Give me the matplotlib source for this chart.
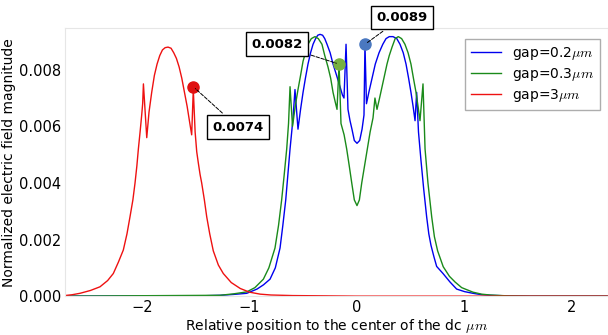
import matplotlib.pyplot as plt
import numpy as np

plt.rcParams["mathtext.fontset"] = "cm"

# positions in um
red_x = [-2.72, -2.65, -2.577, -2.48, -2.391, -2.32, -2.267, -2.22, -2.174, -2.14,
         -2.112, -2.085, -2.065, -2.048, -2.034, -2.018, -2.003, -1.994, -1.987, -1.956,
         -1.935, -1.91, -1.885, -1.86, -1.835, -1.81, -1.785, -1.758, -1.73, -1.705,
         -1.68, -1.655, -1.63, -1.605, -1.58, -1.555, -1.538, -1.523, -1.506, -1.491,
         -1.476, -1.46, -1.445, -1.42, -1.398, -1.37, -1.337, -1.29, -1.244, -1.17,
         -1.086, -1.0, -0.900, -0.8, -0.6, -0.3, 0.0, 1.0, 2.4]
red_y = [0.00002, 0.00005, 0.0001, 0.0002, 0.00033, 0.00055, 0.0008, 0.0012, 0.00163, 0.0022,
         0.0028, 0.0034, 0.0040, 0.0046, 0.0052, 0.0058, 0.0064, 0.0068, 0.0075, 0.0056,
         0.0065, 0.0072, 0.0078, 0.0082, 0.0085, 0.0087, 0.00878, 0.0088, 0.00876, 0.0086,
         0.0084, 0.0081, 0.0077, 0.0072, 0.0067, 0.0061, 0.0057, 0.0073, 0.0058, 0.0051,
         0.0047, 0.0043, 0.0040, 0.0034, 0.0028, 0.0022, 0.0016, 0.0011, 0.0008, 0.00048,
         0.00027, 0.00014, 0.00007, 0.00004, 0.00002, 0.00001, 0.0, 0.0, 0.0]

blue_x = [-2.72, -1.46, -1.274, -1.15, -1.026, -0.93, -0.87, -0.809, -0.76, -0.716,
          -0.69, -0.663, -0.643, -0.623, -0.605, -0.595, -0.577, -0.549, -0.525, -0.502,
          -0.48, -0.456, -0.432, -0.409, -0.385, -0.365, -0.344, -0.32, -0.30, -0.279,
          -0.25, -0.223, -0.19, -0.158, -0.135, -0.121, -0.102, -0.084, -0.065, -0.047,
          -0.025, 0.0, 0.025, 0.047, 0.065, 0.074, 0.088, 0.11, 0.14, 0.17,
          0.205, 0.24, 0.27, 0.30, 0.335, 0.37, 0.40, 0.43, 0.456, 0.48,
          0.502, 0.522, 0.540, 0.555, 0.572, 0.595, 0.62, 0.648, 0.668, 0.688,
          0.715, 0.741, 0.80, 0.865, 0.927, 1.0, 1.079, 1.16, 1.237, 1.4, 1.609, 2.4]
blue_y = [0.0, 0.00001, 0.00003, 0.00006, 0.0001, 0.00025, 0.0004, 0.0006, 0.001, 0.0017,
          0.0025, 0.0034, 0.0043, 0.0052, 0.0059, 0.0063, 0.0073, 0.0059, 0.0066, 0.0072,
          0.0077, 0.0082, 0.0086, 0.0089, 0.0091, 0.00922, 0.00925, 0.00922, 0.0091, 0.0089,
          0.0086, 0.0082, 0.0078, 0.0074, 0.0071, 0.0070, 0.0089, 0.0066, 0.0062, 0.0059,
          0.0055, 0.0054, 0.0055, 0.0059, 0.0064, 0.0089, 0.0068, 0.0072, 0.0077, 0.0082,
          0.0086, 0.0089, 0.0091, 0.00917, 0.00917, 0.0091, 0.0089, 0.0086, 0.0082, 0.0077,
          0.0072, 0.0067, 0.0062, 0.0072, 0.0058, 0.0048, 0.0038, 0.0028, 0.0022, 0.0018,
          0.0014, 0.00105, 0.0008, 0.0005, 0.00025, 0.00016, 0.0001, 0.00005, 0.00003, 0.00001, 0.0, 0.0]

green_x = [-2.72, -1.274, -1.15, -1.026, -0.95, -0.871, -0.82, -0.763, -0.73, -0.701,
           -0.677, -0.654, -0.637, -0.623, -0.600, -0.575, -0.549, -0.525, -0.502, -0.48,
           -0.456, -0.425, -0.391, -0.36, -0.326, -0.30, -0.270, -0.245, -0.223, -0.205,
           -0.186, -0.167, -0.149, -0.12, -0.096, -0.072, -0.049, -0.025, 0.0, 0.022,
           0.044, 0.07, 0.096, 0.122, 0.149, 0.167, 0.186, 0.21, 0.233, 0.256,
           0.279, 0.30, 0.326, 0.355, 0.384, 0.415, 0.446, 0.475, 0.502, 0.525,
           0.549, 0.568, 0.586, 0.614, 0.633, 0.66, 0.695, 0.72, 0.75, 0.802,
           0.86, 0.912, 0.974, 1.079, 1.16, 1.237, 1.4, 1.609, 2.4]
green_y = [0.0, 0.00003, 0.00008, 0.00015, 0.0003, 0.0006, 0.001, 0.0017, 0.0025, 0.0034,
           0.0043, 0.0052, 0.0061, 0.0074, 0.0060, 0.0067, 0.0073, 0.0078, 0.0083, 0.0086,
           0.0089, 0.0091, 0.00917, 0.0091, 0.0089, 0.0085, 0.0081, 0.0077, 0.0072, 0.0069,
           0.0066, 0.0082, 0.0061, 0.0057, 0.0052, 0.0046, 0.0040, 0.0034, 0.0032, 0.0034,
           0.0040, 0.0046, 0.0052, 0.0058, 0.0063, 0.0070, 0.0066, 0.0070, 0.0074, 0.0078,
           0.0082, 0.0085, 0.0088, 0.0091, 0.00917, 0.0091, 0.0089, 0.0086, 0.0082, 0.0077,
           0.0072, 0.0067, 0.0062, 0.0075, 0.0052, 0.0040, 0.0028, 0.0021, 0.0016, 0.00104,
           0.0007, 0.0005, 0.0003, 0.00014, 0.00007, 0.00004, 0.00001, 0.0, 0.0]

# picked points: (x, y, label text)
pick_red = (-1.523, 0.0074, "0.0074")
pick_green = (-0.167, 0.0082, "0.0082")
pick_blue = (0.074, 0.0089, "0.0089")

fig = plt.figure(figsize=(6.08, 3.35), dpi=100)
ax = fig.add_axes([0.107, 0.116, 0.893, 0.8])

ax.plot(blue_x, blue_y, color="#0000ee", lw=1, label="gap=0.2$\\mu m$")
ax.plot(green_x, green_y, color="#1a8a1a", lw=1, label="gap=0.3$\\mu m$")
ax.plot(red_x, red_y, color="#ee1111", lw=1, label="gap=3$\\mu m$")

ax.plot(pick_red[0], pick_red[1], "o", color="#e01010", ms=8, zorder=5)
ax.plot(pick_green[0], pick_green[1], "o", color="#77b040", ms=8, zorder=5)
ax.plot(pick_blue[0], pick_blue[1], "o", color="#4a78c0", ms=8, zorder=5)

box = dict(boxstyle="square,pad=0.4", fc="white", ec="black", lw=1)
arr = dict(arrowstyle="-", linestyle="--", color="black", lw=0.7)
for p, txt_xy in [(pick_red, (-1.107, 0.00597)), (pick_green, (-0.744, 0.0089)),
                  (pick_blue, (0.419, 0.00985))]:
    ax.annotate(p[2], xy=(p[0], p[1]), xytext=txt_xy, ha="center", va="center",
                fontsize=9.5, fontweight="bold", bbox=box, arrowprops=arr,
                annotation_clip=False, zorder=6)

ax.set_xlim(-2.716, 2.335)
ax.set_ylim(0, 0.00947)
ax.set_xticks([-2, -1, 0, 1, 2])
ax.set_xticklabels(["\u22122", "\u22121", "0", "1", "2"])
ax.set_yticks([0, 0.002, 0.004, 0.006, 0.008])
ax.set_yticklabels(["0.000", "0.002", "0.004", "0.006", "0.008"])
ax.tick_params(length=0, labelsize=10.5, pad=3)
for s in ax.spines.values():
    s.set_color("#e6e6e6")

ax.set_xlabel("Relative position to the center of the dc $\\mu m$", fontsize=10, labelpad=1)
ax.set_ylabel("Normalized electric field magnitude", fontsize=10, labelpad=2)

leg = ax.legend(loc="upper right", bbox_to_anchor=(0.998, 0.985), fontsize=10,
                fancybox=False, handlelength=2.2, borderpad=0.4, labelspacing=0.3)
leg.get_frame().set_edgecolor("#999999")

fig.savefig("out.png", dpi=100)
